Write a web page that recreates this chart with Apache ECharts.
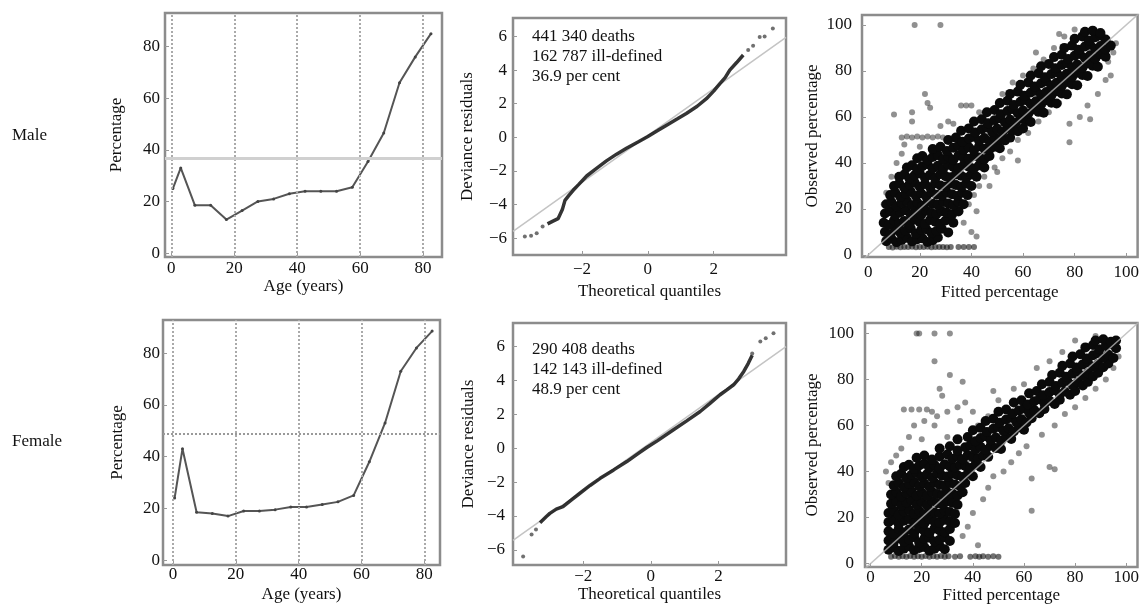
<!DOCTYPE html>
<html>
<head>
<meta charset="utf-8">
<script src="https://cdn.jsdelivr.net/npm/echarts@6/dist/echarts.min.js"></script>
<style>
html, body { margin: 0; padding: 0; background: #fff; }
#chart { width: 1142px; height: 606px; }
</style>
</head>
<body>
<div id="chart"></div>
<script>
// age group midpoints and percentage ill-defined
var ages = [0.5, 3, 7.5, 12.5, 17.5, 22.5, 27.5, 32.5, 37.5, 42.5, 47.5, 52.5, 57.5, 62.5, 67.5, 72.5, 77.5, 82.5];
var malePct = [25, 33, 18.5, 18.5, 13, 16.5, 20, 21, 23, 24, 24, 24, 25.5, 35.5, 46.5, 66, 76, 85];
var femalePct = [24, 43, 18.5, 18, 17, 19, 19, 19.5, 20.5, 20.5, 21.5, 22.5, 25, 38, 53, 73, 82, 88.5];
var maleOverall = 36.9;
var femaleOverall = 48.9;

var ageTicks = [0, 20, 40, 60, 80];
var qTicksX = [-2, 0, 2];
var qTicksY = [-6, -4, -2, 0, 2, 4, 6];
var pctTicks = [0, 20, 40, 60, 80, 100];

var maleText = '441 340 deaths\n162 787 ill-defined\n36.9 per cent';
var femaleText = '290 408 deaths\n142 143 ill-defined\n48.9 per cent';

// QQ plots: [theoretical quantile, deviance residual]
var maleQQ = [[-3.05,-5.15],[-2.9,-5.0],[-2.73,-4.84],[-2.6,-4.3],[-2.52,-3.75],[-2.4,-3.45],[-2.27,-3.15],[-2.1,-2.8],[-1.86,-2.3],[-1.6,-1.9],[-1.26,-1.4],[-0.95,-1.0],[-0.65,-0.65],[-0.3,-0.28],[0,0.05],[0.3,0.4],[0.57,0.72],[0.9,1.1],[1.17,1.42],[1.5,1.85],[1.78,2.3],[2.0,2.75],[2.19,3.2],[2.35,3.55],[2.49,4.0],[2.7,4.45],[2.9,4.9]];
var maleQQTail = [[-3.74,-5.9],[-3.55,-5.85],[-3.38,-5.7],[-3.2,-5.3],[3.05,5.2],[3.2,5.45],[3.4,5.97],[3.55,6.0],[3.8,6.47]];
var maleQQRef = [[-4.1,-5.6],[4.2,5.95]];

var femaleQQ = [[-3.28,-4.4],[-3.1,-4.05],[-2.99,-3.85],[-2.8,-3.6],[-2.6,-3.45],[-2.35,-3.05],[-2.1,-2.66],[-1.8,-2.2],[-1.5,-1.78],[-1.1,-1.28],[-0.71,-0.79],[-0.4,-0.35],[-0.12,0.04],[0.2,0.45],[0.67,1.09],[1.05,1.6],[1.46,2.17],[1.75,2.65],[2.05,3.16],[2.25,3.45],[2.45,3.75],[2.6,4.1],[2.75,4.54],[2.88,5.0],[3.0,5.5]];
var femaleQQTail = [[-3.78,-6.4],[-3.53,-5.1],[-3.4,-4.8],[3.0,5.6],[3.24,6.3],[3.4,6.5],[3.63,6.8]];
var femaleQQRef = [[-4.08,-5.45],[4.0,6.0]];

// observed vs fitted: [fitted, observed]
var diagRef = [[-3,-3],[105,105]];

var maleFloor = [[8,3.5],[9.5,3.2],[11,3.6],[12.5,3.3],[14,3.5],[15.5,3.4],[17,3.6],[18.5,3.3],[20,3.5],[21.5,3.4],[23,3.6],[24.5,3.3],[26,3.5],[27.5,3.4],[29,3.5],[30.5,3.3],[32,3.5],[35,3.4],[37,3.5],[39,3.4],[41,3.5]];
var maleCore = [
  [7,6],[9,7],[11,5.5],[13,6.5],[15,7.5],[17,5.8],[19,6.8],[21,7.2],[23,5.6],[25,6.4],[27,7.6],
  [6.5,10],[8.5,9],[10.5,11],[12.5,9.5],[14.5,10.5],[16.5,11.5],[18.5,9.2],[20.5,10.8],[22.5,11.2],[24.5,9.6],[26.5,10.4],[28.5,11.4],[31,9.8],
  [6,14],[8,13],[10,15],[12,13.5],[14,14.8],[16,13.2],[18,15.4],[20,14.2],[22,13.4],[24,15.2],[26,14.4],[28,13.6],[30,15],[33,14],
  [6.5,18],[8.5,19],[10.5,17.2],[12.5,18.6],[14.5,19.4],[16.5,17.6],[18.5,18.8],[20.5,17.4],[22.5,19.2],[24.5,18.2],[26.5,17.8],[28.5,19],[30.5,18.4],[32.5,17.6],[35,19],
  [7,22],[9,23],[11,21.2],[13,22.6],[15,23.4],[17,21.6],[19,22.8],[21,21.4],[23,23.2],[25,22.2],[27,21.8],[29,23],[31,22.4],[33,21.6],[35,23],[37,22],
  [8.5,26],[10.5,27],[12.5,25.2],[14.5,26.6],[16.5,27.4],[18.5,25.6],[20.5,26.8],[22.5,25.4],[24.5,27.2],[26.5,26.2],[28.5,25.8],[30.5,27],[32.5,26.4],[34.5,25.6],[36.5,27],[38.5,26],
  [10,30],[12,31],[14,29.2],[16,30.6],[18,31.4],[20,29.6],[22,30.8],[24,29.4],[26,31.2],[28,30.2],[30,29.8],[32,31],[34,30.4],[36,29.6],[38,31],[40,30],
  [12,34],[14,35],[16,33.2],[18,34.6],[20,35.4],[22,33.6],[24,34.8],[26,33.4],[28,35.2],[30,34.2],[32,33.8],[34,35],[36,34.4],[38,33.6],[40,35],[42,34],
  [15,38],[17,39],[19,37.2],[21,38.6],[23,39.4],[25,37.6],[27,38.8],[29,37.4],[31,39.2],[33,38.2],[35,37.8],[37,39],[39,38.4],[41,37.6],[43,39],[45,38],
  [19,42],[21,43],[23,41.2],[25,42.6],[27,43.4],[29,41.6],[31,42.8],[33,41.4],[35,43.2],[37,42.2],[39,41.8],[41,43],[43,42.4],[45,41.6],[47,43],
  [25,46],[28,47],[30.5,45.2],[33,46.6],[35,47.4],[37,45.6],[39,46.8],[41,45.4],[43,47.2],[45,46.2],[47,45.8],[49,47],[51,46.4],
  [31,50],[34,51],[36.5,49.2],[39,50.6],[41,51.4],[43,49.6],[45,50.8],[47,49.4],[49,51.2],[51,50.2],[53,49.8],[55,51],
  [36,54],[39,55],[41.5,53.2],[44,54.6],[46,55.4],[48,53.6],[50,54.8],[52,53.4],[54,55.2],[56,54.2],[58,53.8],[60,55],
  [41,58],[44,59],[46.5,57.2],[49,58.6],[51,59.4],[53,57.6],[55,58.8],[57,57.4],[59,59.2],[61,58.2],[63,57.8],
  [46,62],[49,63],[51.5,61.2],[54,62.6],[56,63.4],[58,61.6],[60,62.8],[62,61.4],[64,63.2],[66,62.2],[68,61.8],
  [51,66],[54,67],[56.5,65.2],[59,66.6],[61,67.4],[63,65.6],[65,66.8],[67,65.4],[69,67.2],[71,66.2],[73,65.8],
  [55,70],[58,71],[60.5,69.2],[63,70.6],[65,71.4],[67,69.6],[69,70.8],[71,69.4],[73,71.2],[75,70.2],[77,69.8],
  [59,74],[62,75],[64.5,73.2],[67,74.6],[69,75.4],[71,73.6],[73,74.8],[75,73.4],[77,75.2],[79,74.2],[81,73.8],
  [63,78],[66,79],[68.5,77.2],[71,78.6],[73,79.4],[75,77.6],[77,78.8],[79,77.4],[81,79.2],[83,78.2],[85,77.8],
  [67,82],[70,83],[72.5,81.2],[75,82.6],[77,83.4],[79,81.6],[81,82.8],[83,81.4],[85,83.2],[87,82.2],[89,81.8],
  [72,86],[75,87],[77.5,85.2],[80,86.6],[82,87.4],[84,85.6],[86,86.8],[88,85.4],[90,87.2],[92,86.2],
  [76,90],[79,91],[81.5,89.2],[84,90.6],[86,91.4],[88,89.6],[90,90.8],[92,89.4],[94,91],
  [80,94],[83,95],[85.5,93.2],[88,94.6],[90,95.4],[92,93.6],
  [84,97],[87,97.5],[90,96.5]
];
var maleSparse = [[18,100],[28,100],[10,61],[17,62],[17,58],[22,70],[23,66],[24,64],[36,65],[38,65],[40,65],[43,62],[31,58],[28,56],[33,57],
  [13,51],[15,51.5],[17,51],[19,51.5],[21,51],[23,51.5],[25,51],[27,51.5],[29,51],[13,44],[11,40],[9,34],[7,27],[6,22],[14,48],[20,47],
  [48,63],[52,70],[56,75],[60,78],[64,81],[68,85],[72,90],[76,95],[80,98],[74,96],[65,88],
  [35,18],[37,14],[39,22],[41,26],[43,30],[40,10],[42,8],[42,19],[45,34],[47,30],[49,38],[52,42],[55,45],[58,50],[62,53],[66,58],[70,62],[74,66],
  [78,49],[78,57],[82,60],[86,59],[85,65],[89,70],[92,76],[94,78],[93,84],[95,88],[96,92],[58,41],[50,36]];

var femaleFloor = [[8,3],[9.5,3.3],[11,3],[12.5,3.2],[14,3],[15.5,3.3],[17,3],[18.5,3.2],[20,3],[21.5,3.3],[23,3],[24.5,3.2],[26,3],[27.5,3.3],[29,3],[30.5,3.2],[33,3],[35,3.2],[39,3],[41,3.2],[42.5,3],[44,3.2],[46,3],[48,3.2],[50,3]];
var femaleCore = [
  [7,6],[9,7],[11,5.5],[13,6.5],[15,7.5],[17,5.8],[19,6.8],[21,7.2],[23,5.6],[25,6.4],[27,7.6],[29,6.2],
  [7,10],[9,9],[11,11],[13,9.5],[15,10.5],[17,11.5],[19,9.2],[21,10.8],[23,11.2],[25,9.6],[27,10.4],[29,11.4],[31,9.8],
  [7,14],[9,13],[11,15],[13,13.5],[15,14.8],[17,13.2],[19,15.4],[21,14.2],[23,13.4],[25,15.2],[27,14.4],[29,13.6],[31,15],
  [7,18],[9,19],[11,17.2],[13,18.6],[15,19.4],[17,17.6],[19,18.8],[21,17.4],[23,19.2],[25,18.2],[27,17.8],[29,19],[31,18.4],[33,17.6],
  [7,22],[9,23],[11,21.2],[13,22.6],[15,23.4],[17,21.6],[19,22.8],[21,21.4],[23,23.2],[25,22.2],[27,21.8],[29,23],[31,22.4],[33,21.6],
  [8,26],[10,27],[12,25.2],[14,26.6],[16,27.4],[18,25.6],[20,26.8],[22,25.4],[24,27.2],[26,26.2],[28,25.8],[30,27],[32,26.4],[34,25.6],
  [8,30],[10,31],[12,29.2],[14,30.6],[16,31.4],[18,29.6],[20,30.8],[22,29.4],[24,31.2],[26,30.2],[28,29.8],[30,31],[32,30.4],[34,29.6],[36,31],
  [9,34],[11,35],[13,33.2],[15,34.6],[17,35.4],[19,33.6],[21,34.8],[23,33.4],[25,35.2],[27,34.2],[29,33.8],[31,35],[33,34.4],[35,33.6],[37,35],
  [10,38],[12,39],[14,37.2],[16,38.6],[18,39.4],[20,37.6],[22,38.8],[24,37.4],[26,39.2],[28,38.2],[30,37.8],[32,39],[34,38.4],[36,37.6],[38,39],[40,38],
  [13,42],[15,43],[17,41.2],[19,42.6],[21,43.4],[23,41.6],[25,42.8],[27,41.4],[29,43.2],[31,42.2],[33,41.8],[35,43],[37,42.4],[39,41.6],[41,43],[43,42],
  [18,46],[21,47],[24,45.2],[27,46.6],[30,47.4],[32,45.6],[34,46.8],[36,45.4],[38,47.2],[40,46.2],[42,45.8],[44,47],[46,46.4],
  [27,50],[31,51],[34,49.2],[37,50.6],[39,51.4],[41,49.6],[43,50.8],[45,49.4],[47,51.2],[49,50.2],[51,49.8],
  [34,54],[38,55],[41,53.2],[43,54.6],[45,55.4],[47,53.6],[49,54.8],[51,53.4],[53,55.2],[55,54.2],
  [40,58],[43,59],[45.5,57.2],[48,58.6],[50,59.4],[52,57.6],[54,58.8],[56,57.4],[58,59.2],[60,58.2],
  [45,62],[48,63],[50.5,61.2],[53,62.6],[55,63.4],[57,61.6],[59,62.8],[61,61.4],[63,63.2],
  [50,66],[53,67],[55.5,65.2],[58,66.6],[60,67.4],[62,65.6],[64,66.8],[66,65.4],[68,67.2],
  [56,70],[59,71],[61.5,69.2],[64,70.6],[66,71.4],[68,69.6],[70,70.8],[72,69.4],[74,71.2],
  [62,74],[65,75],[67.5,73.2],[70,74.6],[72,75.4],[74,73.6],[76,74.8],[78,73.4],[80,75],
  [67,78],[70,79],[72.5,77.2],[75,78.6],[77,79.4],[79,77.6],[81,78.8],[83,77.4],[85,79],
  [71,82],[74,83],[76.5,81.2],[79,82.6],[81,83.4],[83,81.6],[85,82.8],[87,81.4],[89,83],
  [75,86],[78,87],[80.5,85.2],[83,86.6],[85,87.4],[87,85.6],[89,86.8],[91,85.4],[93,87],
  [79,90],[82,91],[84.5,89.2],[87,90.6],[89,91.4],[91,89.6],[93,90.8],[95,89.4],
  [84,94],[87,95],[89.5,93.2],[92,94.6],[94,95.4],[96,93.6],
  [88,97],[91,97.5],[94,96.5],[96,97]
];
var femaleSparse = [[18,100],[19,100],[25,100],[31,100],[25,88],[31,82],[36,79],[27,76],[28,73],[13,67],[16,67],[19,67],[22,67],[24,66],[26,64],[30,66],[34,68],[37,70],[40,66],
  [17,60],[21,62],[15,55],[12,50],[10,47],[8,44],[6,40],[7,35],[42,60],[46,64],[50,71],[56,76],[60,78],[48,75],[65,85],[70,88],[75,92],[80,97],[88,99],
  [42,8],[38,16],[36,12],[40,22],[44,28],[46,33],[48,38],[52,40],[55,44],[58,48],[61,51],[63,37],[63,23],[70,42],[72,41],[67,56],[72,60],[76,65],[80,68],[84,72],[88,76],[92,80],[95,85],[97,90],
  [38,45],[30,55],[25,60],[20,54],[35,62],[44,50]];

var serif = 'Liberation Serif';
var chart = echarts.init(document.getElementById('chart'));

function minus(v) { return String(v).replace('-', '\u2212'); }

var grids = [
  {left: 165, top: 13, width: 277, height: 244},
  {left: 513, top: 18, width: 273, height: 237},
  {left: 862, top: 15, width: 276, height: 242},
  {left: 163, top: 320, width: 277, height: 245},
  {left: 513, top: 323, width: 273, height: 242},
  {left: 865, top: 323, width: 273, height: 244}
];
grids.forEach(function (g) {
  g.show = true; g.borderColor = '#8c8c8c'; g.borderWidth = 2.5; g.backgroundColor = '#fff';
});

function axis(i, min, max, ticks, name, gap, margin) {
  return {
    type: 'value', gridIndex: i, min: min, max: max,
    name: name, nameLocation: 'middle', nameGap: gap,
    nameTextStyle: {fontFamily: serif, fontSize: 17, color: '#111'},
    axisLine: {show: false, onZero: false},
    axisTick: {show: true, inside: true, length: 4, lineStyle: {color: '#999'}, customValues: ticks},
    axisLabel: {fontFamily: serif, fontSize: 17, color: '#111', margin: margin, customValues: ticks, formatter: minus},
    splitLine: {show: false}
  };
}

var xAxes = [
  axis(0, -2, 86, ageTicks, 'Age (years)', 21, 3),
  axis(1, -4.1, 4.2, qTicksX, 'Theoretical quantiles', 28, 6),
  axis(2, -2.4, 104.4, pctTicks, 'Fitted percentage', 27, 7),
  axis(3, -3.2, 85, ageTicks, 'Age (years)', 21, 1),
  axis(4, -4.08, 4.0, qTicksX, 'Theoretical quantiles', 21, 3),
  axis(5, -2.2, 104.4, pctTicks, 'Fitted percentage', 20, 2)
];
var yAxes = [
  axis(0, -1.5, 93, ageTicks, 'Percentage', 40, 5),
  axis(1, -7, 7.1, qTicksY, 'Deviance residuals', 37, 6),
  axis(2, -0.9, 104.3, pctTicks, 'Observed percentage', 41, 10),
  axis(3, -1.9, 92.8, ageTicks, 'Percentage', 37, 3),
  axis(4, -6.9, 7.4, qTicksY, 'Deviance residuals', 36, 8),
  axis(5, -1.5, 104.6, pctTicks, 'Observed percentage', 44, 11)
];

function agePanel(i, values, overall, overallStyle) {
  return {
    type: 'line', xAxisIndex: i, yAxisIndex: i,
    data: ages.map(function (a, k) { return [a, values[k]]; }),
    symbol: 'circle', symbolSize: 3, showSymbol: true,
    itemStyle: {color: '#444'}, lineStyle: {color: '#555', width: 2},
    markLine: {
      silent: true, symbol: ['none', 'none'], label: {show: false},
      lineStyle: {type: 'dotted', color: '#aaa', width: 2},
      data: ageTicks.map(function (t) { return {xAxis: t}; })
        .concat([{yAxis: overall, lineStyle: overallStyle}])
    },
    z: 3
  };
}

function qqPanel(i, curve, tail, ref) {
  return [
    {type: 'line', xAxisIndex: i, yAxisIndex: i, data: ref, symbol: 'none',
      lineStyle: {color: '#c4c4c4', width: 1.5}, z: 1},
    {type: 'line', xAxisIndex: i, yAxisIndex: i, data: curve, symbol: 'none',
      lineStyle: {color: '#111', width: 3.5, opacity: 0.85}, z: 2},
    {type: 'scatter', xAxisIndex: i, yAxisIndex: i, data: tail, symbolSize: 4,
      itemStyle: {color: '#333', opacity: 0.7}, z: 2}
  ];
}

function scatterPanel(i, floor, core, sparse) {
  return [
    {type: 'scatter', xAxisIndex: i, yAxisIndex: i, data: sparse, symbolSize: 6,
      itemStyle: {color: '#222', opacity: 0.5}, z: 2},
    {type: 'scatter', xAxisIndex: i, yAxisIndex: i, data: floor, symbolSize: 6,
      itemStyle: {color: '#111', opacity: 0.6}, z: 2},
    {type: 'scatter', xAxisIndex: i, yAxisIndex: i, data: core, symbolSize: 10,
      itemStyle: {color: '#0a0a0a', opacity: 1}, z: 2},
    {type: 'line', xAxisIndex: i, yAxisIndex: i, data: diagRef, symbol: 'none',
      lineStyle: {color: '#b5b5b5', width: 1.5, opacity: 0.8}, z: 3}
  ];
}

var series = [
  agePanel(0, malePct, maleOverall, {type: 'solid', color: '#d0d0d0', width: 3}),
  agePanel(3, femalePct, femaleOverall, {type: 'dotted', color: '#999', width: 2})
].concat(qqPanel(1, maleQQ, maleQQTail, maleQQRef))
 .concat(qqPanel(4, femaleQQ, femaleQQTail, femaleQQRef))
 .concat(scatterPanel(2, maleFloor, maleCore, maleSparse))
 .concat(scatterPanel(5, femaleFloor, femaleCore, femaleSparse));

series.forEach(function (s) { s.clip = true; s.animation = false; });

var option = {
  backgroundColor: '#fff',
  animation: false,
  grid: grids,
  xAxis: xAxes,
  yAxis: yAxes,
  graphic: [
    {type: 'text', left: 12, top: 127, style: {text: 'Male', font: '17px "Liberation Serif"', fill: '#111'}},
    {type: 'text', left: 12, top: 433, style: {text: 'Female', font: '17px "Liberation Serif"', fill: '#111'}},
    {type: 'text', left: 532, top: 27, style: {text: maleText, font: '17px "Liberation Serif"', lineHeight: 20, fill: '#111'}},
    {type: 'text', left: 532, top: 340, style: {text: femaleText, font: '17px "Liberation Serif"', lineHeight: 20, fill: '#111'}}
  ],
  series: series
};

option && chart.setOption(option);
</script>
</body>
</html>
